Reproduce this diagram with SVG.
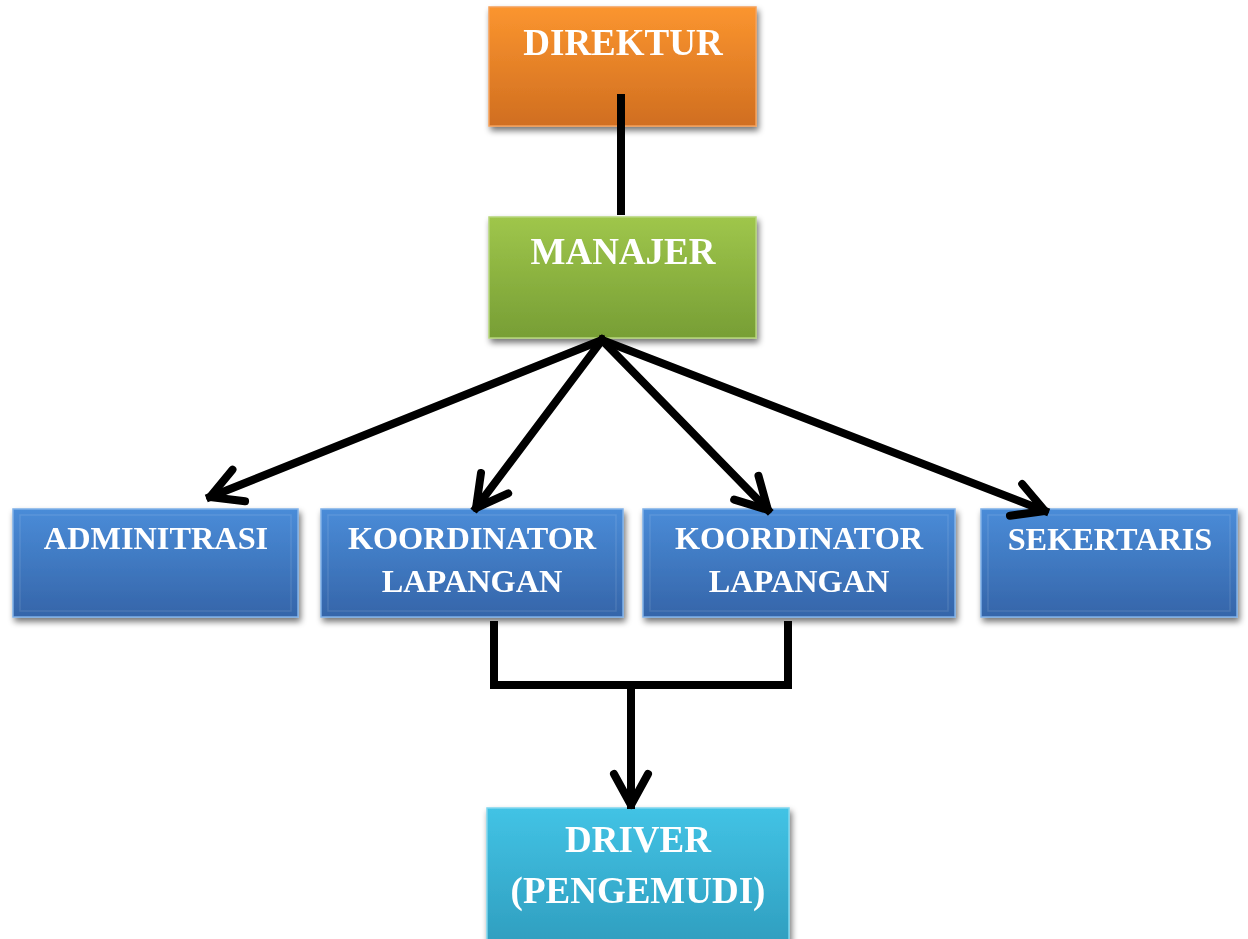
<svg xmlns="http://www.w3.org/2000/svg" width="1248" height="939" viewBox="0 0 1248 939">
<style>
.lbl{font-family:"Liberation Serif","Times New Roman",serif;font-weight:bold;fill:#ffffff;text-anchor:middle}
.big{font-size:37px}
.mid{font-size:32.3px}
.box{filter:url(#sh)}
.con{fill:none;stroke:#000;stroke-width:8;stroke-linecap:square}
.bev{fill:none;stroke:#ffffff;stroke-opacity:0.1;stroke-width:1.5}
</style>
<defs>
<filter id="sh" x="-10%" y="-10%" width="125%" height="130%">
<feGaussianBlur in="SourceAlpha" stdDeviation="3"/>
<feOffset dx="2" dy="4" result="b"/>
<feComponentTransfer><feFuncA type="linear" slope="0.55"/></feComponentTransfer>
<feMerge><feMergeNode/><feMergeNode in="SourceGraphic"/></feMerge>
</filter>
<linearGradient id="gO" x1="0" y1="0" x2="0" y2="1"><stop offset="0" stop-color="#FB952F"/><stop offset="1" stop-color="#D06E20"/></linearGradient>
<linearGradient id="gG" x1="0" y1="0" x2="0" y2="1"><stop offset="0" stop-color="#9FC64B"/><stop offset="1" stop-color="#779E35"/></linearGradient>
<linearGradient id="gB" x1="0" y1="0" x2="0" y2="1"><stop offset="0" stop-color="#4A8CD8"/><stop offset="1" stop-color="#3565A9"/></linearGradient>
<linearGradient id="gC" x1="0" y1="0" x2="0" y2="1"><stop offset="0" stop-color="#42C3E5"/><stop offset="1" stop-color="#2F9DBE"/></linearGradient>
<marker id="arr" markerUnits="userSpaceOnUse" markerWidth="60" markerHeight="60" refX="0" refY="0" viewBox="-40 -30 50 60" orient="auto">
<path d="M-31,-17 L0,0 L-31,17" fill="none" stroke="#000" stroke-width="8" stroke-linecap="round" stroke-linejoin="round"/>
</marker>
</defs>

<g id="direktur" class="box">
<rect x="489" y="7" width="267" height="119" fill="url(#gO)" stroke="#F5A05A" stroke-width="1.5"/>
<text class="lbl big" x="623" y="55">DIREKTUR</text>
</g>
<g id="manajer" class="box">
<rect x="489" y="217" width="267" height="121" fill="url(#gG)" stroke="#B5D57A" stroke-width="1.5"/>
<text class="lbl big" x="623" y="264">MANAJER</text>
</g>
<g id="adminitrasi" class="box">
<rect x="13" y="509" width="285" height="108" fill="url(#gB)" stroke="#7FB0E8" stroke-width="1.5"/>
<rect class="bev" x="20" y="515" width="271" height="96"/>
<text class="lbl mid" x="156" y="549">ADMINITRASI</text>
</g>
<g id="koordinator1" class="box">
<rect x="321" y="509" width="302" height="108" fill="url(#gB)" stroke="#7FB0E8" stroke-width="1.5"/>
<rect class="bev" x="328" y="515" width="288" height="96"/>
<text class="lbl mid" x="472" y="549">KOORDINATOR</text>
<text class="lbl mid" x="472" y="592">LAPANGAN</text>
</g>
<g id="koordinator2" class="box">
<rect x="643" y="509" width="312" height="108" fill="url(#gB)" stroke="#7FB0E8" stroke-width="1.5"/>
<rect class="bev" x="650" y="515" width="298" height="96"/>
<text class="lbl mid" x="799" y="549">KOORDINATOR</text>
<text class="lbl mid" x="799" y="592">LAPANGAN</text>
</g>
<g id="sekertaris" class="box">
<rect x="981" y="509" width="256" height="108" fill="url(#gB)" stroke="#7FB0E8" stroke-width="1.5"/>
<rect class="bev" x="988" y="515" width="242" height="96"/>
<text class="lbl mid" x="1110" y="550">SEKERTARIS</text>
</g>
<g id="driver" class="box">
<rect x="487" y="808" width="302" height="140" fill="url(#gC)" stroke="#7FD6EE" stroke-width="1.5"/>
<text class="lbl big" x="638" y="852">DRIVER</text>
<text class="lbl big" x="638" y="903">(PENGEMUDI)</text>
</g>

<g id="connectors">
<line class="con" x1="621" y1="94" x2="621" y2="215" style="stroke-linecap:butt"/>
<line class="con" x1="602" y1="340" x2="210" y2="497" marker-end="url(#arr)"/>
<line class="con" x1="602" y1="340" x2="476" y2="508" marker-end="url(#arr)"/>
<line class="con" x1="602" y1="340" x2="768" y2="510" marker-end="url(#arr)"/>
<line class="con" x1="602" y1="340" x2="1045" y2="511" marker-end="url(#arr)"/>
<polyline class="con" points="494,625 494,685 788,685 788,625"/>
<line class="con" x1="631" y1="685" x2="631" y2="805" marker-end="url(#arr)"/>
</g>
</svg>
